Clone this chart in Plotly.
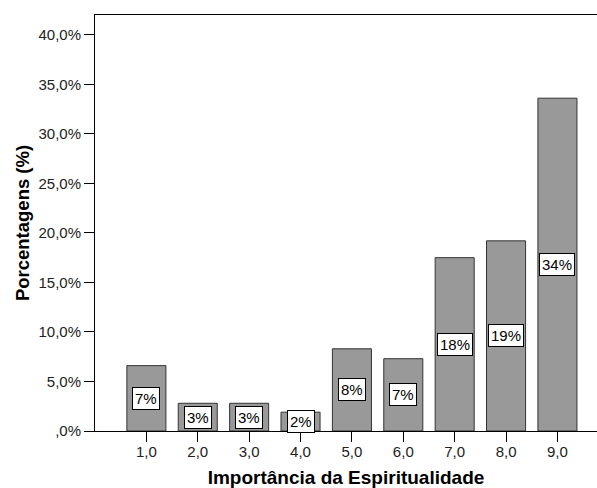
import plotly.graph_objects as go

categories = [1, 2, 3, 4, 5, 6, 7, 8, 9]
cat_labels = ["1,0", "2,0", "3,0", "4,0", "5,0", "6,0", "7,0", "8,0", "9,0"]
percents = [6.6, 2.8, 2.8, 1.9, 8.3, 7.3, 17.5, 19.2, 33.6]
bar_labels = ["7%", "3%", "3%", "2%", "8%", "7%", "18%", "19%", "34%"]
y_tickvals = [0, 5, 10, 15, 20, 25, 30, 35, 40]
y_ticktext = [",0%", "5,0%", "10,0%", "15,0%", "20,0%", "25,0%", "30,0%", "35,0%", "40,0%"]

FONT = "Liberation Sans, Arial, sans-serif"

fig = go.Figure()
fig.add_trace(go.Bar(
    x=categories, y=percents, width=0.76,
    marker=dict(color="#999999", line=dict(color="#333333", width=1)),
    hoverinfo="skip",
))

for xv, yv, t in zip(categories, percents, bar_labels):
    fig.add_annotation(
        x=xv, y=yv / 2, text=t, showarrow=False,
        font=dict(family=FONT, size=15, color="#000000"),
        bgcolor="#ffffff", bordercolor="#000000", borderwidth=1, borderpad=2,
    )

fig.update_layout(
    width=597, height=488,
    margin=dict(l=95, r=0, t=15, b=57),
    plot_bgcolor="#ffffff", paper_bgcolor="#ffffff",
    showlegend=False,
    font=dict(family=FONT, size=15, color="#000000"),
    xaxis=dict(
        range=[0, 9.77], tickvals=categories, ticktext=cat_labels, automargin=False,
        showgrid=False, zeroline=False, showline=True, linecolor="#000000", linewidth=1,
        mirror=True, ticks="outside", ticklen=10, tickcolor="#000000",
        ticklabelstandoff=-3,
        tickfont=dict(family=FONT, size=15, color="#222222"),
        title=dict(text="<b>Importância da Espiritualidade</b>", standoff=11,
                   font=dict(family=FONT, size=19, color="#000000")),
    ),
    yaxis=dict(
        range=[0, 42], tickvals=y_tickvals, ticktext=y_ticktext, automargin=False,
        showgrid=False, zeroline=False, showline=True, linecolor="#000000", linewidth=1,
        ticks="outside", ticklen=10, tickcolor="#000000",
        tickfont=dict(family=FONT, size=15, color="#222222"),
        title=dict(text="<b>Porcentagens (%)</b>", standoff=3,
                   font=dict(family=FONT, size=18.5, color="#000000")),
    ),
)

fig.write_html("out.html", config={"displayModeBar": False},
               post_script="document.body.style.margin='0px';document.body.style.overflow='hidden';")
